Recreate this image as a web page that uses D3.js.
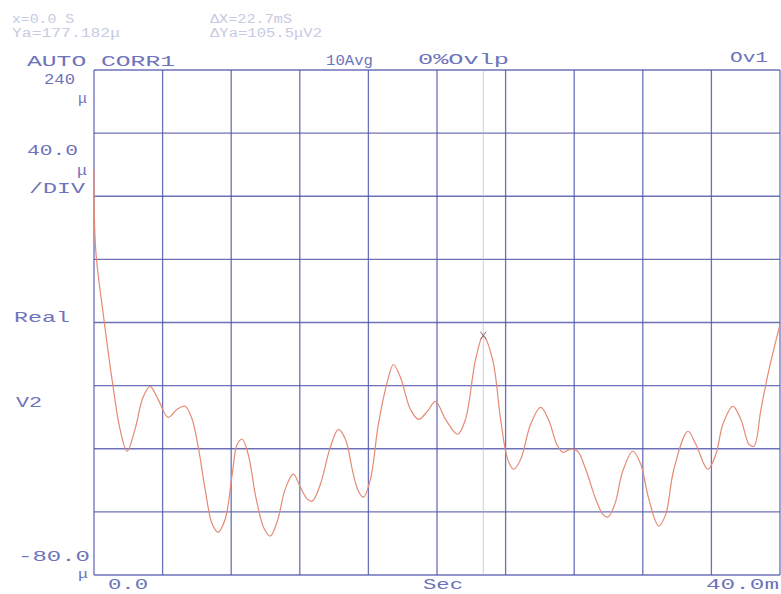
<!DOCTYPE html>
<html>
<head>
<meta charset="utf-8">
<script src="https://cdn.jsdelivr.net/npm/d3@7"></script>
<style>
  html, body { margin: 0; padding: 0; background: #ffffff; }
  svg { display: block; }
  text { font-family: "Liberation Mono", "DejaVu Sans Mono", monospace; }
</style>
</head>
<body>
<svg id="chart" width="781" height="594"></svg>
<script>
// ---- data ----
const timeMs = [0.0, 0.1, 0.58, 1.11, 1.52, 1.93, 2.39, 2.86, 3.27, 3.74, 4.32, 4.85, 5.31, 5.72, 6.07, 6.48, 6.89, 7.24, 7.65, 8.06, 8.35, 8.64, 8.99, 9.46, 9.93, 10.28, 10.69, 11.15, 11.62, 12.03, 12.44, 12.73, 13.2, 13.78, 14.25, 14.66, 15.12, 15.42, 15.71, 16.12, 16.58, 17.11, 17.46, 17.87, 18.45, 18.92, 19.44, 19.91, 20.5, 21.2, 21.66, 22.25, 22.7, 23.24, 23.71, 24.12, 24.47, 24.88, 25.46, 26.04, 26.5, 26.98, 27.33, 27.8, 28.2, 28.67, 29.26, 29.66, 29.96, 30.37, 30.83, 31.42, 31.88, 32.35, 32.93, 33.34, 33.81, 34.63, 35.09, 35.79, 36.26, 36.67, 37.25, 37.72, 38.19, 38.48, 38.89, 39.36, 40.0];
const realV2 = [177.2, 126, 82, 39.5, 12.3, -1.6, 12.3, 32.6, 39.5, 31.3, 19.9, 25.0, 26.9, 18.7, 1.6, -25.6, -47.7, -52.8, -44.5, -16.1, 2.8, 6.0, -3.5, -31.9, -50.9, -55.3, -45.9, -25.6, -16.1, -24.3, -31.9, -33.2, -22.5, 1.0, 12.3, 6.0, -16.1, -26.9, -30.7, -19.3, 15.5, 42.7, 53.4, 45.2, 25.0, 18.6, 23.7, 30.0, 18.6, 9.2, 18.6, 56.6, 71.7, 56.6, 18.6, -6.6, -13.0, -6.6, 15.5, 26.2, 18.6, 2.9, -2.2, -0.3, -1.6, -13.0, -32.0, -41.4, -43.3, -35.1, -14.2, -1.6, -9.8, -31.9, -49.0, -41.4, -13.0, 11.1, 2.9, -13.0, -3.5, 15.5, 26.9, 18.6, 2.9, 1.6, 25.0, 50.3, 78.7];
const markerMs = 22.7;
const markerVal = 71.7;

const yTicks = [-80, -40, 0, 40, 80, 120, 160, 200, 240];
const xTicks = [0, 4, 8, 12, 16, 20, 24, 28, 32, 36, 40];

const headerLines = ["x=0.0 S", "Ya=177.182μ", "ΔX=22.7mS", "ΔYa=105.5μV2"];
const titleLabels = ["AUTO CORR1", "10Avg", "0%Ovlp", "Ov1"];
const leftLabels = ["240", "μ", "40.0", "μ", "/DIV", "Real", "V2", "-80.0", "μ"];
const bottomLabels = ["0.0", "Sec", "40.0m"];

// ---- layout ----
const svg = d3.select("#chart");
const x = d3.scaleLinear().domain([0, 40]).range([94, 780]);
const y = d3.scaleLinear().domain([-80, 240]).range([575, 70]);

const gridColor = "#5258ab";
const textColor = "#6e74bb";
const faintColor = "#c6cae2";
const traceColor = "#e58a74";

// grid
const g = svg.append("g");
g.selectAll("line.h").data(yTicks).join("line")
  .attr("x1", x(0)).attr("x2", x(40))
  .attr("y1", d => y(d)).attr("y2", d => y(d))
  .attr("stroke", gridColor).attr("stroke-width", 1.3).attr("stroke-opacity", 0.85);
g.selectAll("line.v").data(xTicks).join("line")
  .attr("x1", d => x(d)).attr("x2", d => x(d))
  .attr("y1", y(240)).attr("y2", y(-80))
  .attr("stroke", gridColor).attr("stroke-width", 1.3).attr("stroke-opacity", 0.85);

// marker line
svg.append("line")
  .attr("x1", x(markerMs)).attr("x2", x(markerMs))
  .attr("y1", y(240)).attr("y2", y(-80))
  .attr("stroke", "#a8acd6").attr("stroke-width", 1).attr("stroke-opacity", 0.6);

// trace
const pts = timeMs.map((t, i) => [t, realV2[i]]);
const line = d3.line().x(d => x(d[0])).y(d => y(d[1])).curve(d3.curveCatmullRom.alpha(0.5));
svg.append("path").datum(pts)
  .attr("d", line).attr("fill", "none")
  .attr("stroke", traceColor).attr("stroke-width", 1.2);

// marker x
const mx = x(markerMs), my = y(markerVal);
svg.append("path")
  .attr("d", `M${mx-3},${my-4}L${mx+3},${my+4}M${mx+3},${my-4}L${mx-3},${my+4}`)
  .attr("stroke", "#8a6a70").attr("stroke-width", 1);

// text helper
function label(txt, x0, base, w, size, color) {
  svg.append("text").text(txt)
    .attr("x", x0).attr("y", base)
    .attr("textLength", w).attr("lengthAdjust", "spacingAndGlyphs")
    .attr("font-size", size).attr("fill", color);
}

// header
label(headerLines[0], 12, 23, 62, 12, faintColor);
label(headerLines[1], 12, 37, 108, 12, faintColor);
label(headerLines[2], 210, 23, 82, 12, faintColor);
label(headerLines[3], 210, 37, 112, 12, faintColor);

// title row
label(titleLabels[0], 27, 66, 148, 15, textColor);
label(titleLabels[1], 326, 65, 47, 15, textColor);
label(titleLabels[2], 418, 64, 91, 15, textColor);
label(titleLabels[3], 730, 62, 38, 15, textColor);

// left labels
label(leftLabels[0], 44, 84, 31, 15, textColor);
label(leftLabels[1], 78, 103, 9, 14, textColor);
label(leftLabels[2], 27, 155, 51, 15, textColor);
label(leftLabels[3], 77, 175, 10, 14, textColor);
label(leftLabels[4], 29, 193, 56, 15, textColor);
label(leftLabels[5], 14, 322, 56, 15, textColor);
label(leftLabels[6], 16, 407, 26, 15, textColor);
label(leftLabels[7], 18, 561, 72, 15, textColor);
label(leftLabels[8], 78, 578, 10, 13, textColor);

// bottom labels
label(bottomLabels[0], 108, 589, 40, 14, textColor);
label(bottomLabels[1], 423, 589, 40, 14, textColor);
label(bottomLabels[2], 706, 589, 73, 14, textColor);
</script>
</body>
</html>
